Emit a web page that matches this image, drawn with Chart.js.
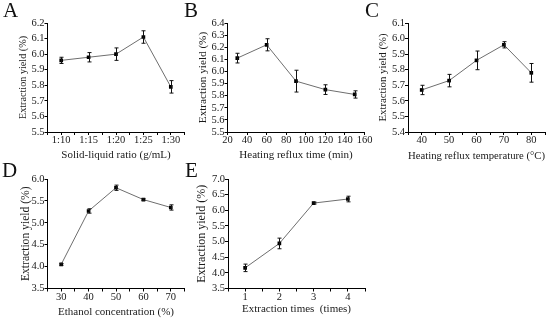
<!DOCTYPE html>
<html>
<head>
<meta charset="utf-8">
<script src="https://cdn.jsdelivr.net/npm/chart.js@4.4.1/dist/chart.umd.min.js"></script>
<style>
  html, body { margin: 0; padding: 0; background: #fff; }
  #wrap { position: relative; width: 550px; height: 322px; overflow: hidden; }
  canvas { position: absolute; left: 0; top: 0; }
  .tag { position: absolute; font-family: "Liberation Serif", "Times New Roman", serif; font-size: 21px; line-height: 1; color: #111; }
</style>
</head>
<body>
<div id="wrap">
  <canvas id="chartA" width="550" height="322"></canvas>
  <canvas id="chartB" width="550" height="322"></canvas>
  <canvas id="chartC" width="550" height="322"></canvas>
  <canvas id="chartD" width="550" height="322"></canvas>
  <canvas id="chartE" width="550" height="322"></canvas>
  <div class="tag" style="left:3px;top:0px">A</div>
  <div class="tag" style="left:184px;top:0px">B</div>
  <div class="tag" style="left:365px;top:0px">C</div>
  <div class="tag" style="left:2px;top:160px">D</div>
  <div class="tag" style="left:185px;top:160px">E</div>
</div>
<script>
// A: solid-liquid ratio
const ratioLabels = ["1:10", "1:15", "1:20", "1:25", "1:30"];
const ratioPos = [1, 2, 3, 4, 5];
const ratioYield = [5.96, 5.98, 6.00, 6.11, 5.79];
const ratioErr = [0.02, 0.03, 0.04, 0.04, 0.04];
const ratioTicksY = [5.5, 5.6, 5.7, 5.8, 5.9, 6.0, 6.1, 6.2];

// B: heating reflux time
const timeMin = [30, 60, 90, 120, 150];
const timeYield = [6.11, 6.22, 5.92, 5.85, 5.81];
const timeErr = [0.04, 0.05, 0.09, 0.04, 0.03];
const timeTicksX = [20, 40, 60, 80, 100, 120, 140, 160];
const timeTicksY = [5.5, 5.6, 5.7, 5.8, 5.9, 6.0, 6.1, 6.2, 6.3, 6.4];

// C: heating reflux temperature
const tempC = [40, 50, 60, 70, 80];
const tempYield = [5.67, 5.73, 5.86, 5.96, 5.78];
const tempErr = [0.03, 0.04, 0.06, 0.02, 0.06];
const tempTicksY = [5.4, 5.5, 5.6, 5.7, 5.8, 5.9, 6.0, 6.1];

// D: ethanol concentration
const ethanolPct = [30, 40, 50, 60, 70];
const ethanolYield = [4.05, 5.27, 5.80, 5.53, 5.35];
const ethanolErr = [0.02, 0.05, 0.06, 0.02, 0.06];
const ethanolTicksY = [3.5, 4.0, 4.5, 5.0, 5.5, 6.0];

// E: extraction times
const extractTimes = [1, 2, 3, 4];
const extractYield = [4.16, 4.94, 6.23, 6.36];
const extractErr = [0.12, 0.17, 0.03, 0.09];
const extractTicksY = [3.5, 4.0, 4.5, 5.0, 5.5, 6.0, 6.5, 7.0];

const serif = '"Liberation Serif", "Times New Roman", serif';
const ink = "#1a1a1a";

// draws the vertical error bars with small caps
const errorBars = {
    id: "errorBars",
    afterDatasetsDraw(chart) {
        const ctx = chart.ctx;
        const yScale = chart.scales.y;
        const ds = chart.data.datasets[0];
        const meta = chart.getDatasetMeta(0);
        ctx.save();
        ctx.strokeStyle = "#111";
        ctx.lineWidth = 1;
        meta.data.forEach(function (pt, i) {
            const v = ds.data[i].y;
            const top = yScale.getPixelForValue(v + ds.errors[i]);
            const bot = yScale.getPixelForValue(v - ds.errors[i]);
            const x = Math.round(pt.x) + 0.5;
            ctx.beginPath();
            ctx.moveTo(x, top);
            ctx.lineTo(x, bot);
            ctx.moveTo(x - 2, top);
            ctx.lineTo(x + 2, top);
            ctx.moveTo(x - 2, bot);
            ctx.lineTo(x + 2, bot);
            ctx.stroke();
        });
        ctx.restore();
    },
};

function makePanel(id, p) {
    const W = 550, H = 322;
    const xlh = 11 * 1.2;
    const ylh = p.yTitleSize * 1.2;
    const padLeft = p.yTitleX - ylh / 2;
    const padBottom = H - p.xTitleY - xlh / 2;

    new Chart(document.getElementById(id), {
        type: "line",
        data: {
            datasets: [
                {
                    data: p.x.map((x, i) => ({ x: x, y: p.y[i] })),
                    errors: p.err,
                    borderColor: "#6e6e6e",
                    borderWidth: 1,
                    pointStyle: "rect",
                    pointRadius: 2.6,
                    pointBackgroundColor: "#000",
                    pointBorderWidth: 0,
                    tension: 0,
                },
            ],
        },
        options: {
            responsive: false,
            animation: false,
            events: [],
            layout: {
                padding: {
                    left: padLeft,
                    top: p.area.top,
                    right: W - p.area.right,
                    bottom: padBottom,
                },
            },
            plugins: { legend: { display: false }, tooltip: { enabled: false } },
            scales: {
                x: {
                    type: "linear",
                    min: p.xMin,
                    max: p.xMax,
                    afterBuildTicks: (s) => {
                        s.ticks = p.xTicks.map((v) => ({ value: v }));
                    },
                    afterFit: (s) => {
                        s.height = p.xTitleY + xlh / 2 - p.area.bottom;
                    },
                    grid: { drawOnChartArea: false, drawTicks: true, tickLength: 3, color: "#000" },
                    border: { display: true, color: "#000", width: 1 },
                    ticks: {
                        autoSkip: false,
                        maxRotation: 0,
                        padding: 0,
                        color: ink,
                        font: { family: serif, size: 10.5, lineHeight: 1 },
                        callback: p.xLabel,
                    },
                    title: {
                        display: true,
                        text: p.xTitle,
                        color: ink,
                        padding: 0,
                        font: { family: serif, size: 11 },
                    },
                },
                y: {
                    min: p.yTicks[0],
                    max: p.yTicks[p.yTicks.length - 1],
                    afterBuildTicks: (s) => {
                        s.ticks = p.yTicks.map((v) => ({ value: v }));
                    },
                    afterFit: (s) => {
                        s.width = p.area.left - padLeft;
                    },
                    grid: { drawOnChartArea: false, drawTicks: true, tickLength: 3, color: "#000" },
                    border: { display: true, color: "#000", width: 1 },
                    ticks: {
                        autoSkip: false,
                        padding: 0,
                        color: ink,
                        font: { family: serif, size: 10.5 },
                        callback: (v) => Number(v).toFixed(1),
                    },
                    title: {
                        display: true,
                        text: "Extraction yield (%)",
                        color: ink,
                        padding: 0,
                        font: { family: serif, size: p.yTitleSize },
                    },
                },
            },
        },
        plugins: [errorBars],
    });
}

// label helper: only label the main ticks
function onlyIn(list, fmt) {
    return (v) => (list.includes(v) ? fmt(v) : "");
}

makePanel("chartA", {
    x: ratioPos, y: ratioYield, err: ratioErr,
    xMin: 0.5, xMax: 5.5,
    xTicks: [0.5, 1, 1.5, 2, 2.5, 3, 3.5, 4, 4.5, 5, 5.5],
    xLabel: onlyIn(ratioPos, (v) => ratioLabels[v - 1]),
    yTicks: ratioTicksY,
    xTitle: "Solid-liquid ratio (g/mL)",
    area: { left: 47.5, right: 184.5, top: 23, bottom: 132 },
    yTitleX: 23, xTitleY: 155.5, yTitleSize: 10.2,
});

makePanel("chartB", {
    x: timeMin, y: timeYield, err: timeErr,
    xMin: 20, xMax: 160,
    xTicks: timeTicksX,
    xLabel: (v) => String(v),
    yTicks: timeTicksY,
    xTitle: "Heating reflux time (min)",
    area: { left: 227.5, right: 364.5, top: 23, bottom: 132 },
    yTitleX: 203, xTitleY: 155, yTitleSize: 11.2,
});

makePanel("chartC", {
    x: tempC, y: tempYield, err: tempErr,
    xMin: 35, xMax: 85,
    xTicks: [35, 40, 45, 50, 55, 60, 65, 70, 75, 80, 85],
    xLabel: onlyIn(tempC, (v) => String(v)),
    yTicks: tempTicksY,
    xTitle: "Heating reflux temperature (\u00b0C)",
    area: { left: 408, right: 545, top: 23, bottom: 132 },
    yTitleX: 383.5, xTitleY: 156, yTitleSize: 10.8,
});

makePanel("chartD", {
    x: ethanolPct, y: ethanolYield, err: ethanolErr,
    xMin: 25, xMax: 75,
    xTicks: [25, 30, 35, 40, 45, 50, 55, 60, 65, 70, 75],
    xLabel: onlyIn(ethanolPct, (v) => String(v)),
    yTicks: ethanolTicksY,
    xTitle: "Ethanol concentration (%)",
    area: { left: 47.5, right: 184.5, top: 179, bottom: 288.5 },
    yTitleX: 26, xTitleY: 312, yTitleSize: 11.6,
});

makePanel("chartE", {
    x: extractTimes, y: extractYield, err: extractErr,
    xMin: 0.5, xMax: 4.5,
    xTicks: [0.5, 1, 1.5, 2, 2.5, 3, 3.5, 4, 4.5],
    xLabel: onlyIn(extractTimes, (v) => String(v)),
    yTicks: extractTicksY,
    xTitle: "Extraction times  (times)",
    area: { left: 228, right: 365, top: 179, bottom: 288.5 },
    yTitleX: 202, xTitleY: 309, yTitleSize: 12,
});
</script>
</body>
</html>
